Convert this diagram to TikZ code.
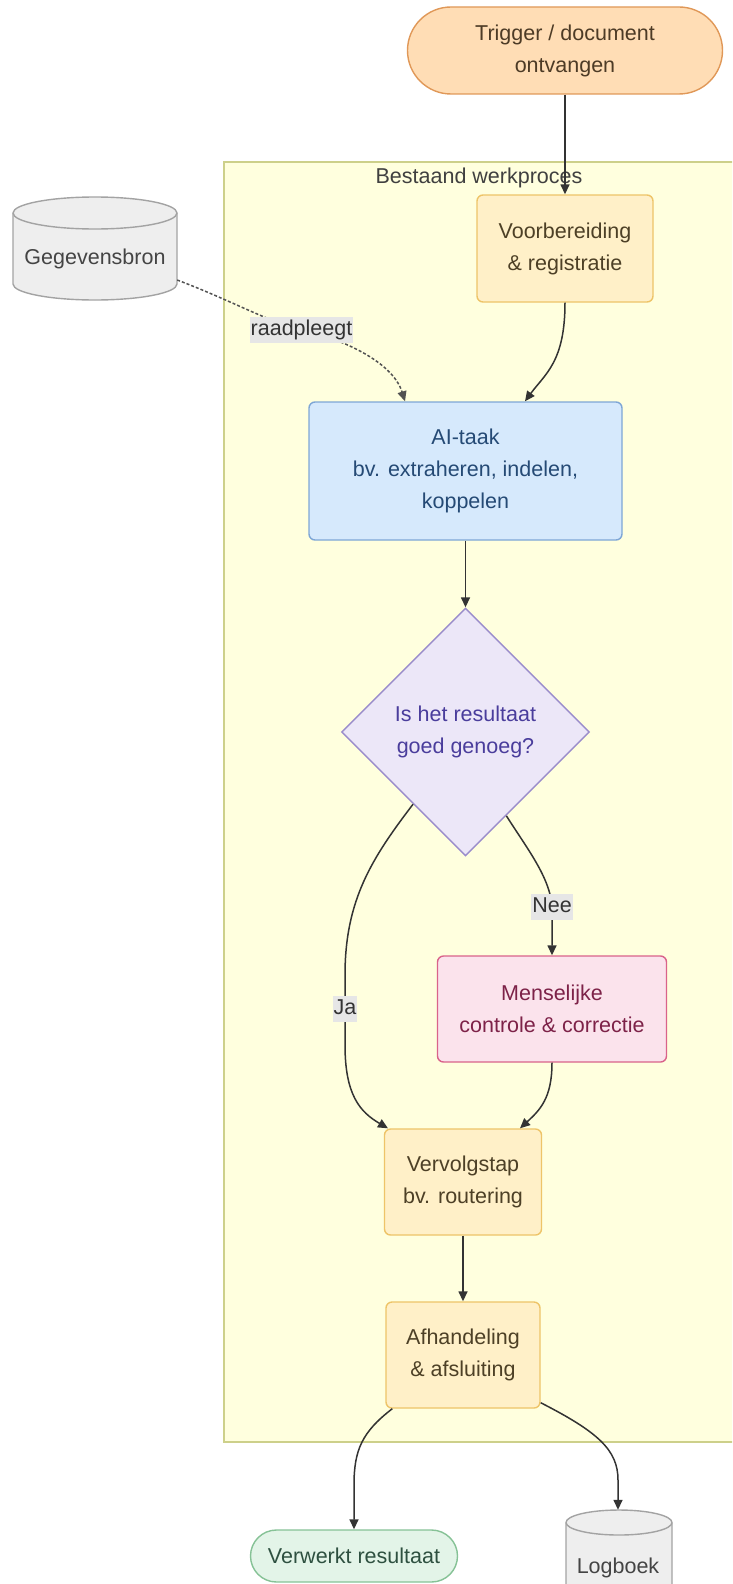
\documentclass[tikz,border=0pt]{standalone}
\usepackage{fontspec}
\setmainfont{Liberation Sans}
\usetikzlibrary{shapes.geometric,arrows.meta,calc}
\definecolor{trigfill}{HTML}{FFDDB5}
\definecolor{trigline}{HTML}{E09858}
\definecolor{trigtext}{HTML}{4D3B26}
\definecolor{contfill}{HTML}{FFFFDE}
\definecolor{contline}{HTML}{CDD08A}
\definecolor{conttext}{HTML}{404040}
\definecolor{procfill}{HTML}{FFF0C8}
\definecolor{procline}{HTML}{EEC468}
\definecolor{proctext}{HTML}{4D4026}
\definecolor{aifill}{HTML}{D6E9FC}
\definecolor{ailine}{HTML}{7EA6D6}
\definecolor{aitext}{HTML}{254A75}
\definecolor{decfill}{HTML}{ECE7F8}
\definecolor{decline}{HTML}{9A8CCB}
\definecolor{dectext}{HTML}{4A3D9C}
\definecolor{humfill}{HTML}{FBE3EC}
\definecolor{humline}{HTML}{D9638A}
\definecolor{humtext}{HTML}{7D2248}
\definecolor{outfill}{HTML}{E3F4E8}
\definecolor{outline}{HTML}{86C296}
\definecolor{outtext}{HTML}{2E5040}
\definecolor{cylfill}{HTML}{EEEEEE}
\definecolor{cylline}{HTML}{A3A3A3}
\definecolor{cyltext}{HTML}{444444}
\definecolor{edgecol}{HTML}{333333}
\definecolor{lblfill}{HTML}{E6E6E6}
\definecolor{lbltext}{HTML}{333333}
\begin{document}
\begin{tikzpicture}[x=1pt,y=1pt,
  font=\fontsize{21.5}{32}\selectfont,
  box/.style={rectangle, rounded corners=6pt, line width=1.4pt, align=center, inner sep=0pt},
  procbox/.style={box, fill=procfill, draw=procline, text=proctext},
  termbox/.style={box, line width=1.4pt},
  cylshape/.style={fill=cylfill, draw=cylline, line width=1.4pt},
  cyllabel/.style={text=cyltext, inner sep=0pt},
  edge/.style={draw=edgecol, line width=1.5pt, -{Triangle[length=10pt,width=9pt]}},
  dedge/.style={edge, draw=edgecol!85, dash pattern=on 3pt off 2pt},
  lbl/.style={fill=lblfill, text=lbltext, inner xsep=1pt, inner ysep=3pt, text height=15.5pt, text depth=4.5pt}
]
\useasboundingbox (0,0) rectangle (732,-1584);
\clip (0,0) rectangle (732,-1584);

% container
\draw[fill=contfill, draw=contline, line width=1.4pt] (224,-162) rectangle (800,-1442);
\node[text=conttext, inner sep=0pt] (clab) at (479,-177.5) {Bestaand werkproces};

% trigger
\node[termbox, fill=trigfill, draw=trigline, text=trigtext, rounded corners=43.5pt,
      minimum width=315pt, minimum height=87pt] (trig) at (565,-50.5) {Trigger / document\\ontvangen};

% data source cylinder
\path[cylshape] (13,-213) -- (13,-284) arc[start angle=180,end angle=360,x radius=82,y radius=16]
  -- (177,-213) arc[start angle=0,end angle=180,x radius=82,y radius=16] -- cycle;
\draw[draw=cylline, line width=1.4pt] (13,-213) arc[start angle=180,end angle=360,x radius=82,y radius=16];
\node[cyllabel, minimum width=164pt, minimum height=80pt] (src) at (95,-259) {Gegevensbron};

% process nodes
\node[procbox, minimum width=176pt, minimum height=107pt] (prep) at (565,-248.5) {Voorbereiding\\\& registratie};
\node[box, fill=aifill, draw=ailine, text=aitext, minimum width=313pt, minimum height=138pt] (ai) at (465.5,-471) {AI-taak\\bv. extraheren, indelen,\\koppelen};
\node[diamond, aspect=1, fill=decfill, draw=decline, text=dectext, line width=1.4pt, align=center,
      inner sep=0pt, minimum width=248pt, minimum height=248pt] (dec) at (465.5,-732) {Is het resultaat\\goed genoeg?};
\node[box, fill=humfill, draw=humline, text=humtext, minimum width=229pt, minimum height=106pt] (hum) at (552,-1009) {Menselijke\\controle \& correctie};
\node[procbox, minimum width=157pt, minimum height=106pt] (next) at (463,-1182) {Vervolgstap\\bv. routering};
\node[procbox, minimum width=154pt, minimum height=106pt] (done) at (463,-1355) {Afhandeling\\\& afsluiting};
\node[termbox, fill=outfill, draw=outline, text=outtext, rounded corners=26pt,
      minimum width=207pt, minimum height=52pt] (out) at (354,-1556) {Verwerkt resultaat};

% log cylinder
\path[cylshape] (566,-1522.5) -- (566,-1650) -- (672,-1650)
  -- (672,-1522.5) arc[start angle=0,end angle=180,x radius=53,y radius=12.5] -- cycle;
\draw[draw=cylline, line width=1.4pt] (566,-1522.5) arc[start angle=180,end angle=360,x radius=53,y radius=12.5];
\node[cyllabel, minimum width=106pt, minimum height=116pt] (log) at (618,-1568) {Logboek};

% edges
\draw[edge] (trig.south) -- (prep.north);
\draw[edge] (prep.south) .. controls (565,-362) and (545,-374) .. ([xshift=59.5pt]ai.north);
\draw[dedge] ([yshift=-21pt]src.east) .. controls (235,-302) and (268,-322) .. (301.5,-329.5)
  .. controls (338,-338) and (392,-360) .. ([xshift=-60.5pt]ai.north);
\draw[edge] (ai.south) -- (dec.north);
\draw[edge] (dec.-126) .. controls (372,-858) and (345,-900) .. (345,-975) -- (345,-1045)
  .. controls (345,-1095) and (360,-1112) .. ([xshift=-75pt]next.north);
\draw[edge] (dec.-64) .. controls (528,-850) and (552,-880) .. (552,-910) -- (hum.north);
\draw[edge] (hum.south) .. controls (552,-1098) and (540,-1110) .. ([xshift=57pt]next.north);
\draw[edge] (next.south) -- (done.north);
\draw[edge] ([xshift=7pt]done.south west) .. controls (362,-1432) and (354,-1450) .. (354,-1485) -- (out.north);
\draw[edge] ([yshift=6pt]done.south east) .. controls (598,-1432) and (618,-1450) .. (618,-1480) -- (log.north);

% edge labels
\node[lbl] (lr) at (301.5,-329.5) {raadpleegt};
\node[lbl] (lnee) at (552,-907) {Nee};
\node[lbl] (lja) at (345,-1009) {Ja};
\end{tikzpicture}
\end{document}
